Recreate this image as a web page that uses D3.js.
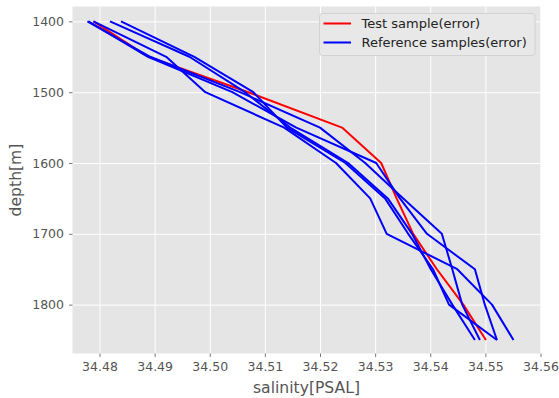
<!DOCTYPE html>
<html>
<head>
<meta charset="utf-8">
<script src="https://cdn.jsdelivr.net/npm/d3@7"></script>
<style>
  html, body { margin: 0; padding: 0; background: #fff; }
  svg { display: block; font-family: "DejaVu Sans", sans-serif; }
</style>
</head>
<body>
<div id="chart"></div>
<script>
// depth levels [m]
const depths = [1400, 1450, 1500, 1550, 1600, 1650, 1700, 1750, 1800, 1850];

// test sample salinity (red)
const testSample = [34.4789, 34.4888, 34.5070, 34.5240, 34.5311, 34.5339, 34.5369, 34.5412, 34.5460, 34.5501];

// reference samples salinity (blue)
const ref1 = [34.4778, 34.4892, 34.5055, 34.5200, 34.5282, 34.5351, 34.5421, 34.5440, 34.5458, 34.5490];
const ref2 = [34.4789, 34.4921, 34.4992, 34.5135, 34.5229, 34.5291, 34.5321, 34.5449, 34.5512, 34.5551];
const ref3 = [34.4819, 34.4963, 34.5064, 34.5146, 34.5251, 34.5323, 34.5367, 34.5401, 34.5440, 34.5481];
const ref4 = [34.4839, 34.4972, 34.5079, 34.5140, 34.5246, 34.5318, 34.5360, 34.5405, 34.5434, 34.5521];
const ref5 = [34.4780, 34.4888, 34.5041, 34.5157, 34.5302, 34.5345, 34.5394, 34.5481, 34.5499, 34.5521];
const refSamples = [ref1, ref2, ref3, ref4, ref5];

const xTicks = [34.48, 34.49, 34.50, 34.51, 34.52, 34.53, 34.54, 34.55, 34.56];
const yTicks = [1400, 1500, 1600, 1700, 1800];

const legendLabels = ["Test sample(error)", "Reference samples(error)"];

const W = 559, H = 398;
const plot = { left: 72.5, top: 6.5, right: 540.5, bottom: 353.5 };

const svg = d3.select("#chart").append("svg")
    .attr("width", W)
    .attr("height", H);

const x = d3.scaleLinear().domain([34.4751, 34.5600]).range([plot.left, plot.right]);
const y = d3.scaleLinear().domain([1379, 1869]).range([plot.top, plot.bottom]);

// background
svg.append("rect")
    .attr("x", plot.left).attr("y", plot.top)
    .attr("width", plot.right - plot.left)
    .attr("height", plot.bottom - plot.top)
    .attr("fill", "#E5E5E5");

// grid
const gridX = svg.append("g")
    .attr("transform", `translate(0,${plot.bottom})`)
    .call(d3.axisBottom(x).tickValues(xTicks).tickSize(-(plot.bottom - plot.top)).tickFormat(""));
const gridY = svg.append("g")
    .attr("transform", `translate(${plot.left},0)`)
    .call(d3.axisLeft(y).tickValues(yTicks).tickSize(-(plot.right - plot.left)).tickFormat(""));
[gridX, gridY].forEach(g => {
    g.select(".domain").remove();
    g.selectAll("line").attr("stroke", "#ffffff").attr("stroke-width", 1);
});

// axes with outward ticks
const xAxis = svg.append("g")
    .attr("transform", `translate(0,${plot.bottom})`)
    .call(d3.axisBottom(x).tickValues(xTicks).tickSize(3.5).tickPadding(5).tickFormat(d3.format(".2f")));
const yAxis = svg.append("g")
    .attr("transform", `translate(${plot.left},0)`)
    .call(d3.axisLeft(y).tickValues(yTicks).tickSize(3.5).tickPadding(5).tickFormat(d3.format("d")));
[xAxis, yAxis].forEach(g => {
    g.select(".domain").remove();
    g.selectAll("line").attr("stroke", "#555555").attr("stroke-width", 0.8);
    g.selectAll("text")
        .attr("fill", "#555555")
        .style("font-size", "12.5px")
        .style("font-family", "DejaVu Sans");
});

// axis labels
svg.append("text")
    .attr("x", (plot.left + plot.right) / 2)
    .attr("y", 393)
    .attr("text-anchor", "middle")
    .attr("fill", "#555555")
    .style("font-size", "15.6px")
    .text("salinity[PSAL]");

svg.append("text")
    .attr("transform", `translate(21,${(plot.top + plot.bottom) / 2}) rotate(-90)`)
    .attr("text-anchor", "middle")
    .attr("fill", "#555555")
    .style("font-size", "15.6px")
    .text("depth[m]");

// lines
const clipId = "plotclip";
svg.append("clipPath").attr("id", clipId)
    .append("rect")
    .attr("x", plot.left).attr("y", plot.top)
    .attr("width", plot.right - plot.left)
    .attr("height", plot.bottom - plot.top);

const line = d3.line()
    .x(d => x(d[0]))
    .y(d => y(d[1]));

const lines = svg.append("g").attr("clip-path", `url(#${clipId})`);

lines.append("path")
    .datum(testSample.map((s, i) => [s, depths[i]]))
    .attr("d", line)
    .attr("fill", "none")
    .attr("stroke", "#ff0000")
    .attr("stroke-width", 2)
    .attr("stroke-linejoin", "round");

lines.selectAll(".ref")
    .data(refSamples)
    .enter().append("path")
    .attr("class", "ref")
    .attr("d", r => line(r.map((s, i) => [s, depths[i]])))
    .attr("fill", "none")
    .attr("stroke", "#0000ff")
    .attr("stroke-width", 2)
    .attr("stroke-linejoin", "round");

// legend
const legend = svg.append("g");
legend.append("rect")
    .attr("x", 319.5).attr("y", 13.5)
    .attr("width", 215.5).attr("height", 42)
    .attr("rx", 3)
    .attr("fill", "#E8E8E8")
    .attr("stroke", "#d2d2d2")
    .attr("stroke-width", 1);

const legendColors = ["#ff0000", "#0000ff"];
legendLabels.forEach((lab, i) => {
    const ly = 23.5 + i * 19;
    legend.append("line")
        .attr("x1", 323.5).attr("x2", 351)
        .attr("y1", ly).attr("y2", ly)
        .attr("stroke", legendColors[i])
        .attr("stroke-width", 2);
    legend.append("text")
        .attr("x", 361.5)
        .attr("y", ly)
        .attr("dy", "0.35em")
        .attr("fill", "#222222")
        .style("font-size", "13px")
        .text(lab);
});
</script>
</body>
</html>
